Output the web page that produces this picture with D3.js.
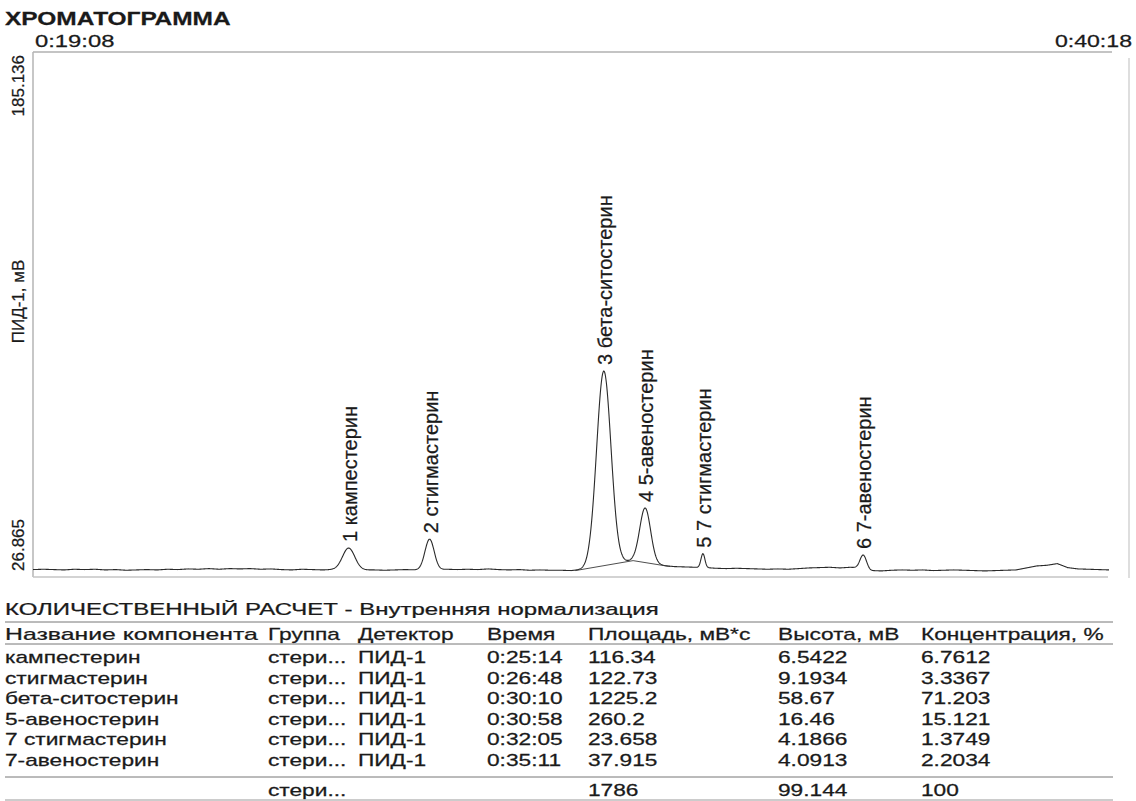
<!DOCTYPE html>
<html>
<head>
<meta charset="utf-8">
<script src="https://cdn.jsdelivr.net/npm/d3@7"></script>
<style>
  body { margin: 0; background: #fff; }
  svg { display: block; }
  text { font-family: "Liberation Sans", Arial, sans-serif; fill: #1a1a1a; stroke: #1a1a1a; stroke-width: 0.25px; }
</style>
</head>
<body>
<svg id="chart" width="1136" height="801"></svg>
<script>
// ---- data ----
const chartTitle = "ХРОМАТОГРАММА";
const timeTicks = ["0:19:08", "0:40:18"];
const signalTicks = [26.865, 185.136];
const signalLabel = "ПИД-1, мВ";

const componentNames = ["кампестерин", "стигмастерин", "бета-ситостерин", "5-авеностерин", "7 стигмастерин", "7-авеностерин"];
const componentGroup = "стери...";
const detectorName = "ПИД-1";
const retentionTimes = ["0:25:14", "0:26:48", "0:30:10", "0:30:58", "0:32:05", "0:35:11"];
const peakAreas = [116.34, 122.73, 1225.2, 260.2, 23.658, 37.915];
const peakHeights = [6.5422, 9.1934, 58.67, 16.46, 4.1866, 4.0913];
const concentrations = [6.7612, 3.3367, 71.203, 15.121, 1.3749, 2.2034];
const totalsRow = ["", "стери...", "", "", "1786", "99.144", "100"];

const tableTitle = "КОЛИЧЕСТВЕННЫЙ РАСЧЕТ - Внутренняя нормализация";
const tableHeaders = ["Название компонента", "Группа", "Детектор", "Время", "Площадь, мВ*с", "Высота, мВ", "Концентрация, %"];

// detector baseline, one reading every 12 s from the start of the window (mV)
const baselineStart = "0:19:08";
const baselineStep = 12;
const baselineValues = [
  29.1, 29.2, 29.1, 29.0, 29.2, 29.1, 29.2, 29.0, 29.1, 28.9,
  29.0, 29.1, 29.0, 29.2, 29.1, 29.3, 29.2, 29.4, 29.2, 29.4,
  29.3, 29.4, 29.2, 29.3, 29.1, 29.0, 29.2, 29.1, 29.0, 29.1,
  29.0, 29.1, 29.0, 29.0, 28.9, 29.0, 29.1, 29.0, 29.1, 29.0,
  29.2, 29.1, 29.2, 29.1, 29.3, 29.1, 29.0, 29.1, 28.9, 29.0,
  28.9, 28.9, 28.8, 29.1, 29.65, 30.2, 30.75, 31.3, 31.8, 31.3,
  30.8, 30.3, 30.0, 29.9, 29.8, 29.7, 29.5, 29.4, 29.5, 29.4,
  29.3, 29.2, 29.3, 29.2, 29.4, 29.6, 29.7, 29.8, 29.6, 29.8,
  29.6, 28.8, 28.7, 28.9, 29.0, 28.9, 29.0, 28.8, 28.9, 29.0,
  28.9, 28.8, 28.7, 28.8, 28.9, 29.0, 29.6, 30.2, 30.4, 30.9,
  29.7, 29.3, 29.2, 29.1, 29.0
];

// integration baseline drawn under the peak 3 / peak 4 cluster
const dropTimes = ["0:29:37", "0:30:44", "0:31:27"];
const dropValues = [28.8, 31.8, 30.0];

// ---- helpers ----
const toSec = s => { const p = s.split(":").map(Number); return p[0] * 3600 + p[1] * 60 + p[2]; };

const svg = d3.select("#chart");
const x = d3.scaleLinear().domain([toSec(timeTicks[0]), toSec(timeTicks[1])]).range([33, 1128]);
const y = d3.scaleLinear().domain(signalTicks).range([577, 52]);

function hText(parent, px, py, str, size, sx, opts = {}) {
  return parent.append("text")
    .attr("transform", `translate(${px},${py}) scale(${sx},1)`)
    .attr("font-size", size)
    .attr("font-weight", opts.weight || "normal")
    .attr("text-anchor", opts.anchor || "start")
    .text(str);
}

// ---- frame ----
const frame = svg.append("g").attr("fill", "none");
frame.append("line").attr("x1", x.range()[0]).attr("x2", 1112).attr("y1", y.range()[1]).attr("y2", y.range()[1])
  .attr("stroke", "#8a8a8a").attr("stroke-width", 1.2);
frame.append("line").attr("x1", x.range()[0]).attr("x2", x.range()[0]).attr("y1", y.range()[1]).attr("y2", y.range()[0])
  .attr("stroke", "#b5b5b5").attr("stroke-width", 1.5);
frame.append("line").attr("x1", x.range()[0]).attr("x2", 1108).attr("y1", y.range()[0]).attr("y2", y.range()[0])
  .attr("stroke", "#c4c4c4").attr("stroke-width", 1.5);
frame.append("line").attr("x1", 1129).attr("x2", 1129).attr("y1", 58).attr("y2", 578)
  .attr("stroke", "#c8c8c8").attr("stroke-width", 1.2);

// ---- titles and tick labels ----
hText(svg, 5, 25, chartTitle, 18, 1.36, { weight: "bold" });
hText(svg, x.range()[0] + 2, 47, timeTicks[0], 17, 1.4);
hText(svg, 1132, 47, timeTicks[1], 17, 1.36, { anchor: "end" });

const yLab = (val, anchor, str) => svg.append("text")
  .attr("transform", `translate(18,${y(val) + (anchor === "start" ? -6 : 3)}) rotate(-90)`)
  .attr("dy", "0.35em").attr("font-size", 17).attr("text-anchor", anchor).text(str);
yLab(signalTicks[1], "end", signalTicks[1].toFixed(3));
yLab(signalTicks[0], "start", signalTicks[0].toFixed(3));
svg.append("text")
  .attr("transform", `translate(18,${(y.range()[0] + y.range()[1]) / 2 - 13}) rotate(-90)`)
  .attr("dy", "0.35em").attr("font-size", 17).attr("text-anchor", "middle").text(signalLabel);

// ---- chromatogram trace ----
const t0 = toSec(baselineStart);
const baselinePts = baselineValues.map((v, i) => [t0 + i * baselineStep, v]);
const baseAt = d3.scaleLinear().domain(baselinePts.map(d => d[0])).range(baselinePts.map(d => d[1])).clamp(true);

const peaks = componentNames.map((name, i) => {
  const rt = toSec(retentionTimes[i]);
  const h = peakHeights[i];
  const sigma = peakAreas[i] / (h * Math.sqrt(2 * Math.PI));
  return { name, rt, h, sigma, label: `${i + 1} ${name}` };
});

const tEnd = baselinePts[baselinePts.length - 1][0];
const trace = d3.range(t0, tEnd + 0.5, 0.5).map(t => {
  let v = baseAt(t);
  peaks.forEach(p => { v += p.h * Math.exp(-((t - p.rt) ** 2) / (2 * p.sigma * p.sigma)); });
  return [t, v];
});

const line = d3.line().x(d => x(d[0])).y(d => y(d[1]));
svg.append("path").datum(trace).attr("d", line)
  .attr("fill", "none").attr("stroke", "#2a2a2a").attr("stroke-width", 1.1);

// integration baseline under the fused peaks
svg.append("path").datum(dropTimes.map((t, i) => [toSec(t), dropValues[i]])).attr("d", line)
  .attr("fill", "none").attr("stroke", "#3a3a3a").attr("stroke-width", 0.9);

// peak labels, rotated, starting just above each apex
svg.append("g").selectAll("text").data(peaks).join("text")
  .attr("transform", p => `translate(${x(p.rt) + 1},${y(baseAt(p.rt) + p.h) - 6}) rotate(-90)`)
  .attr("dy", "0.35em").attr("font-size", 20).attr("text-anchor", "start")
  .text(p => p.label);

// ---- quantitation table ----
const colX = [5, 268, 358, 487, 588, 778, 921];
const tSize = 16, tStretch = 1.42;
const table = svg.append("g");
hText(table, 5, 615, tableTitle, tSize, 1.5);
table.append("line").attr("x1", 5).attr("x2", 1113).attr("y1", 622).attr("y2", 622).attr("stroke", "#777");
tableHeaders.forEach((h, i) => hText(table, colX[i], 640, h, tSize, i === 0 ? 1.55 : tStretch));
table.append("line").attr("x1", 5).attr("x2", 1113).attr("y1", 644).attr("y2", 644).attr("stroke", "#777");

const rows = componentNames.map((n, i) => [n, componentGroup, detectorName, retentionTimes[i],
  String(peakAreas[i]), String(peakHeights[i]), String(concentrations[i])]);
rows.forEach((r, ri) => r.forEach((c, ci) => hText(table, colX[ci], 663 + ri * 20.6, c, tSize, tStretch)));
table.append("line").attr("x1", 5).attr("x2", 1113).attr("y1", 777).attr("y2", 777).attr("stroke", "#777");
totalsRow.forEach((c, ci) => { if (c) hText(table, colX[ci], 796, c, tSize, tStretch); });
table.append("line").attr("x1", 5).attr("x2", 1113).attr("y1", 800).attr("y2", 800).attr("stroke", "#999");
</script>
</body>
</html>
